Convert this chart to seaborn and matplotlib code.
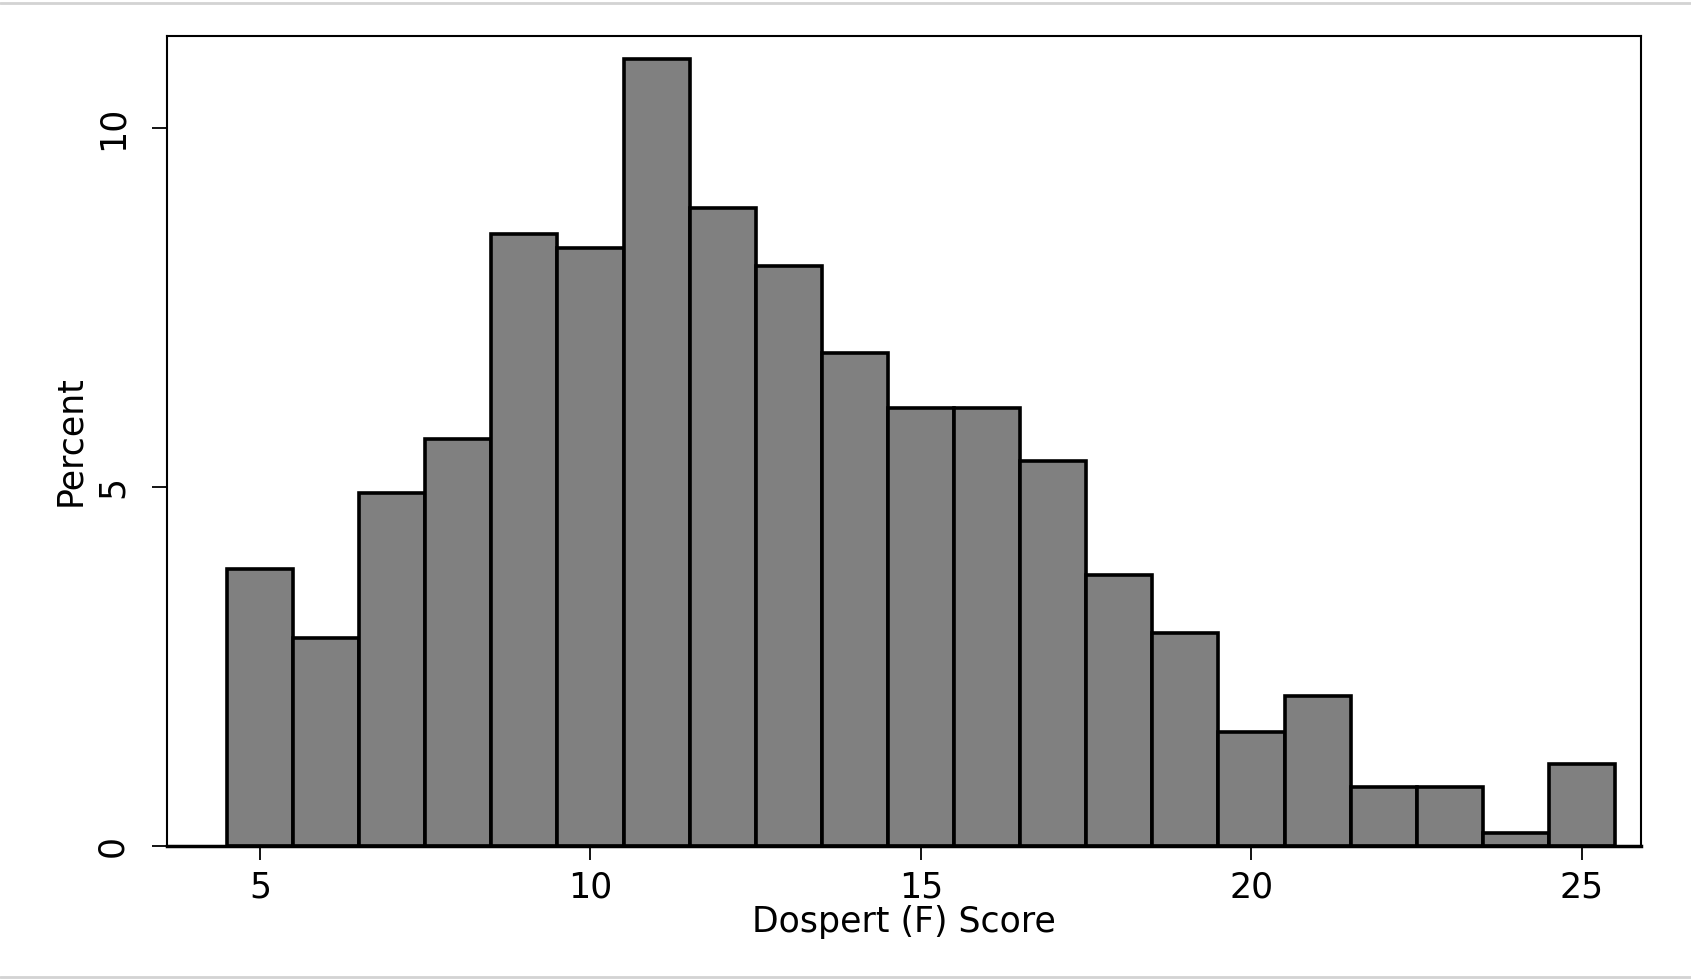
import numpy as np
import pandas as pd
import matplotlib
matplotlib.use("Agg")
import matplotlib.pyplot as plt
import seaborn as sns
from matplotlib.lines import Line2D

# Data: score bins (centres) and percentage of respondents
scores = [5, 6, 7, 8, 9, 10, 11, 12, 13, 14, 15, 16, 17, 18, 19, 20, 21, 22, 23, 24, 25]
percents = [3.85, 2.90, 4.92, 5.66, 8.52, 8.32, 10.96, 8.89, 8.07, 6.87, 6.10,
            6.10, 5.36, 3.77, 2.97, 1.59, 2.08, 0.82, 0.82, 0.18, 1.14]
x_ticks = [5, 10, 15, 20, 25]
y_ticks = [0, 5, 10]
x_label = "Dospert (F) Score"
y_label = "Percent"

sns.set_theme(style="white")
plt.rcParams['font.family'] = ['DejaVu Sans']
plt.rcParams['text.color'] = 'black'
plt.rcParams['xtick.color'] = 'black'
plt.rcParams['ytick.color'] = 'black'
plt.rcParams['axes.labelcolor'] = 'black'

df = pd.DataFrame({"score": scores, "percent": percents})

fig = plt.figure(figsize=(16.91, 9.80), dpi=100)
ax = fig.add_axes([0.0989, 0.137, 0.8718, 0.8263])

sns.histplot(data=df, x="score", weights="percent", binwidth=1.0, binrange=(4.5, 25.5),
             stat="count", color="#808080", edgecolor="black", linewidth=2.6,
             alpha=1.0, ax=ax)

fs = 25
ax.set_xlim(3.597, 25.90)
ax.set_ylim(0, 11.28)
ax.set_xticks(x_ticks)
ax.set_yticks(y_ticks)
ax.set_xticklabels([str(t) for t in x_ticks], fontsize=fs)
ax.set_yticklabels([str(t) for t in y_ticks], fontsize=fs, rotation=90, va="center")
ax.tick_params(axis="x", direction="out", length=10, width=1.3, color="black", pad=8, bottom=True)
ax.tick_params(axis="y", direction="out", length=11, width=1.3, color="black", pad=16, left=True)
ax.set_xlabel(x_label, fontsize=fs, labelpad=0)
ax.set_ylabel(y_label, fontsize=fs, labelpad=6)

for side, sp in ax.spines.items():
    sp.set_visible(True)
    sp.set_color("black")
    sp.set_linewidth(1.5)
ax.spines["bottom"].set_linewidth(2.5)
ax.grid(False)

# thin light-grey frame lines at top and bottom of the image
fig.add_artist(Line2D([0, 1], [0.9970, 0.9970], transform=fig.transFigure, color="#d3d3d3", linewidth=2))
fig.add_artist(Line2D([0, 1], [0.0035, 0.0035], transform=fig.transFigure, color="#d3d3d3", linewidth=2))

fig.savefig("out.png", dpi=100, facecolor="white")
